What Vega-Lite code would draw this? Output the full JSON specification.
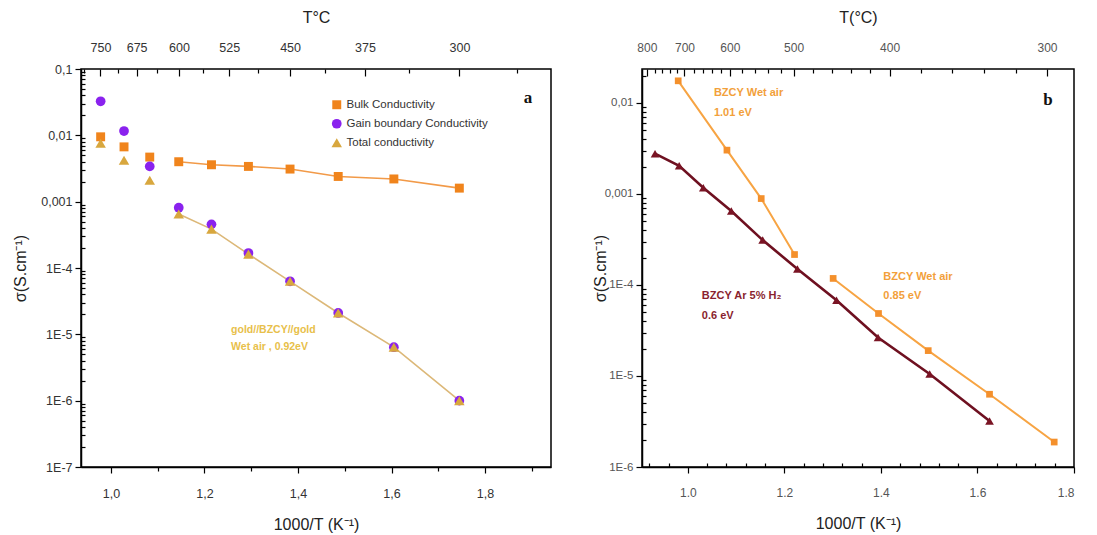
{
  "$schema": "https://vega.github.io/schema/vega-lite/v6.json",
  "background": "white",
  "padding": {"left": 11, "top": 8, "right": 0, "bottom": 0},
  "spacing": 91,
  "bounds": "flush",
  "resolve": {"scale": {"color": "independent", "shape": "independent", "size": "independent", "stroke": "independent", "strokeWidth": "independent", "opacity": "independent"}},
  "config": {
    "view": {"stroke": "black", "strokeWidth": 1.5},
    "font": "Liberation Sans",
    "axis": {"grid": false, "domainColor": "black", "domainWidth": 1.5, "tickColor": "black", "tickWidth": 1.2, "labelFont": "Liberation Sans", "labelFontSize": 12.5, "labelColor": "#333", "titleFont": "Liberation Sans", "titleFontSize": 16, "titleFontWeight": "normal", "titleColor": "#222"},
    "legend": {"labelFont": "Liberation Sans", "labelFontSize": 11.5, "labelColor": "#333", "symbolSize": 70, "rowPadding": 6, "symbolStrokeWidth": 0}
  },
  "datasets": {
    "left": [
      {"x": 0.978, "sigma": 0.0095, "series": "Bulk Conductivity"},
      {"x": 1.028, "sigma": 0.0067, "series": "Bulk Conductivity"},
      {"x": 1.083, "sigma": 0.0047, "series": "Bulk Conductivity"},
      {"x": 1.145, "sigma": 0.0040, "series": "Bulk Conductivity"},
      {"x": 1.215, "sigma": 0.0036, "series": "Bulk Conductivity"},
      {"x": 1.294, "sigma": 0.0034, "series": "Bulk Conductivity"},
      {"x": 1.383, "sigma": 0.0031, "series": "Bulk Conductivity"},
      {"x": 1.486, "sigma": 0.0024, "series": "Bulk Conductivity"},
      {"x": 1.605, "sigma": 0.0022, "series": "Bulk Conductivity"},
      {"x": 1.745, "sigma": 0.0016, "series": "Bulk Conductivity"},
      {"x": 0.978, "sigma": 0.0326, "series": "Gain boundary Conductivity"},
      {"x": 1.028, "sigma": 0.0116, "series": "Gain boundary Conductivity"},
      {"x": 1.083, "sigma": 0.0034, "series": "Gain boundary Conductivity"},
      {"x": 1.145, "sigma": 0.00081, "series": "Gain boundary Conductivity"},
      {"x": 1.215, "sigma": 0.000455, "series": "Gain boundary Conductivity"},
      {"x": 1.294, "sigma": 0.000168, "series": "Gain boundary Conductivity"},
      {"x": 1.383, "sigma": 0.000063, "series": "Gain boundary Conductivity"},
      {"x": 1.486, "sigma": 0.000021, "series": "Gain boundary Conductivity"},
      {"x": 1.605, "sigma": 0.0000064, "series": "Gain boundary Conductivity"},
      {"x": 1.745, "sigma": 0.000001, "series": "Gain boundary Conductivity"},
      {"x": 0.978, "sigma": 0.0076, "series": "Total conductivity"},
      {"x": 1.028, "sigma": 0.0042, "series": "Total conductivity"},
      {"x": 1.083, "sigma": 0.0021, "series": "Total conductivity"},
      {"x": 1.145, "sigma": 0.00065, "series": "Total conductivity"},
      {"x": 1.215, "sigma": 0.000386, "series": "Total conductivity"},
      {"x": 1.294, "sigma": 0.000162, "series": "Total conductivity"},
      {"x": 1.383, "sigma": 0.000063, "series": "Total conductivity"},
      {"x": 1.486, "sigma": 0.000021, "series": "Total conductivity"},
      {"x": 1.605, "sigma": 0.0000064, "series": "Total conductivity"},
      {"x": 1.745, "sigma": 0.000001, "series": "Total conductivity"}
    ],
    "right": [
      {"x": 0.980, "sigma": 0.0175, "series": "BZCY Wet air", "seg": "w1"},
      {"x": 1.081, "sigma": 0.00303, "series": "BZCY Wet air", "seg": "w1"},
      {"x": 1.152, "sigma": 0.00089, "series": "BZCY Wet air", "seg": "w1"},
      {"x": 1.221, "sigma": 0.000216, "series": "BZCY Wet air", "seg": "w1"},
      {"x": 1.301, "sigma": 0.000118, "series": "BZCY Wet air", "seg": "w2"},
      {"x": 1.395, "sigma": 0.0000486, "series": "BZCY Wet air", "seg": "w2"},
      {"x": 1.498, "sigma": 0.000019, "series": "BZCY Wet air", "seg": "w2"},
      {"x": 1.625, "sigma": 0.0000063, "series": "BZCY Wet air", "seg": "w2"},
      {"x": 1.759, "sigma": 0.00000188, "series": "BZCY Wet air", "seg": "w2"},
      {"x": 0.932, "sigma": 0.00277, "series": "BZCY Ar 5% H2", "seg": "h"},
      {"x": 0.982, "sigma": 0.00204, "series": "BZCY Ar 5% H2", "seg": "h"},
      {"x": 1.032, "sigma": 0.00117, "series": "BZCY Ar 5% H2", "seg": "h"},
      {"x": 1.090, "sigma": 0.00065, "series": "BZCY Ar 5% H2", "seg": "h"},
      {"x": 1.155, "sigma": 0.000311, "series": "BZCY Ar 5% H2", "seg": "h"},
      {"x": 1.227, "sigma": 0.00015, "series": "BZCY Ar 5% H2", "seg": "h"},
      {"x": 1.308, "sigma": 0.000068, "series": "BZCY Ar 5% H2", "seg": "h"},
      {"x": 1.394, "sigma": 0.0000265, "series": "BZCY Ar 5% H2", "seg": "h"},
      {"x": 1.501, "sigma": 0.0000105, "series": "BZCY Ar 5% H2", "seg": "h"},
      {"x": 1.625, "sigma": 0.0000032, "series": "BZCY Ar 5% H2", "seg": "h"}
    ]
  },
  "hconcat": [
    {
      "width": 470,
      "height": 398,
      "data": {"name": "left"},
      "resolve": {"axis": {"x": "independent", "y": "independent"}},
      "layer": [
        {
          "transform": [{"filter": "datum.x > 1.1 && datum.series != 'Gain boundary Conductivity'"}],
          "mark": {"type": "line", "strokeWidth": 1.6},
          "encoding": {
            "x": {"field": "x", "type": "quantitative", "scale": {"domain": [0.936, 1.941], "nice": false, "zero": false},
              "axis": {"orient": "bottom", "values": [1.0, 1.2, 1.4, 1.6, 1.8], "labelExpr": "replace(format(datum.value, '.1f'), '.', ',')", "tickSize": 6, "labelPadding": 14, "title": "1000/T (K⁻¹)", "titlePadding": 17}},
            "y": {"field": "sigma", "type": "quantitative", "scale": {"type": "log", "domain": [1e-7, 0.1], "nice": false},
              "axis": {"orient": "left", "values": [0.1, 0.01, 0.001, 0.0001, 0.00001, 0.000001, 0.0000001], "labelExpr": "datum.value > 0.05 ? '0,1' : datum.value > 0.005 ? '0,01' : datum.value > 0.0005 ? '0,001' : datum.value > 0.00005 ? '1E-4' : datum.value > 0.000005 ? '1E-5' : datum.value > 0.0000005 ? '1E-6' : '1E-7'", "tickSize": 6, "labelPadding": 3, "title": "σ(S.cm⁻¹)", "titlePadding": 12}},
            "stroke": {"field": "series", "type": "nominal", "scale": {"domain": ["Bulk Conductivity", "Total conductivity"], "range": ["#f29a48", "#dcb878"]}, "legend": null}
          }
        },
        {
          "mark": {"type": "point", "filled": true},
          "encoding": {
            "x": {"field": "x", "type": "quantitative", "axis": {"orient": "bottom", "values": [1.1, 1.3, 1.5, 1.7, 1.9], "labels": false, "domain": false, "tickSize": 4, "title": null}},
            "y": {"field": "sigma", "type": "quantitative", "axis": {"orient": "left", "values": [2e-7, 3e-7, 4e-7, 5e-7, 6e-7, 7e-7, 8e-7, 9e-7, 2e-6, 3e-6, 4e-6, 5e-6, 6e-6, 7e-6, 8e-6, 9e-6, 2e-5, 3e-5, 4e-5, 5e-5, 6e-5, 7e-5, 8e-5, 9e-5, 0.0002, 0.0003, 0.0004, 0.0005, 0.0006, 0.0007, 0.0008, 0.0009, 0.002, 0.003, 0.004, 0.005, 0.006, 0.007, 0.008, 0.009, 0.02, 0.03, 0.04, 0.05, 0.06, 0.07, 0.08, 0.09], "labels": false, "domain": false, "tickSize": 4, "offset": -4, "title": null}},
            "color": {"field": "series", "type": "nominal", "scale": {"domain": ["Bulk Conductivity", "Gain boundary Conductivity", "Total conductivity"], "range": ["#f0841c", "#8a22ee", "#d8a73e"]},
              "legend": {"orient": "none", "legendX": 250, "legendY": 30, "title": null}},
            "shape": {"field": "series", "type": "nominal", "scale": {"domain": ["Bulk Conductivity", "Gain boundary Conductivity", "Total conductivity"], "range": ["square", "circle", "triangle-up"]},
              "legend": {"orient": "none", "legendX": 250, "legendY": 30, "title": null}},
            "size": {"field": "series", "type": "nominal", "scale": {"domain": ["Bulk Conductivity", "Gain boundary Conductivity", "Total conductivity"], "range": [80, 110, 90]}, "legend": null},
            "opacity": {"field": "series", "type": "nominal", "scale": {"domain": ["Bulk Conductivity", "Gain boundary Conductivity", "Total conductivity"], "range": [1, 1, 0.72]}, "legend": null}
          }
        },
        {
          "data": {"values": [
            {"x": 1.257, "sigma": 0.0000116, "label": "gold//BZCY//gold"},
            {"x": 1.257, "sigma": 0.0000064, "label": "Wet air , 0.92eV"}
          ]},
          "mark": {"type": "text", "align": "left", "baseline": "middle", "font": "Liberation Sans", "fontSize": 10.5, "fontWeight": "bold", "color": "#e8c04a"},
          "encoding": {
            "x": {"field": "x", "type": "quantitative",
              "axis": {"orient": "top", "values": [0.9775, 1.0549, 1.1455, 1.2531, 1.3831, 1.5432, 1.7452], "labelExpr": "datum.value < 1.0 ? '750' : datum.value < 1.1 ? '675' : datum.value < 1.2 ? '600' : datum.value < 1.3 ? '525' : datum.value < 1.45 ? '450' : datum.value < 1.6 ? '375' : '300'", "ticks": false, "labelPadding": 15, "domain": false, "title": "T°C", "titlePadding": 16}},
            "y": {"field": "sigma", "type": "quantitative", "axis": null},
            "text": {"field": "label"}
          }
        },
        {
          "data": {"values": [{"x": 1.892, "sigma": 0.0366, "label": "a"}]},
          "mark": {"type": "text", "align": "center", "baseline": "middle", "font": "Liberation Serif", "fontSize": 17, "fontWeight": "bold", "color": "#111"},
          "encoding": {
            "x": {"field": "x", "type": "quantitative",
              "axis": {"orient": "top", "values": [0.943, 1.0147, 1.0983, 1.1969, 1.3149, 1.4588, 1.638, 1.8674], "labels": false, "domain": false, "tickSize": 4, "offset": -4, "title": null}},
            "y": {"field": "sigma", "type": "quantitative", "axis": null},
            "text": {"field": "label"}
          }
        },
        {
          "mark": {"type": "point", "opacity": 0},
          "encoding": {
            "x": {"field": "x", "type": "quantitative",
              "axis": {"orient": "top", "values": [0.9775, 1.0549, 1.1455, 1.2531, 1.3831, 1.5432, 1.7452], "labels": false, "domain": false, "tickSize": 7, "offset": -7, "title": null}},
            "y": {"field": "sigma", "type": "quantitative", "axis": null}
          }
        }
      ]
    },
    {
      "width": 432,
      "height": 398,
      "data": {"name": "right"},
      "resolve": {"axis": {"x": "independent", "y": "independent"}},
      "layer": [
        {
          "mark": {"type": "line"},
          "encoding": {
            "x": {"field": "x", "type": "quantitative", "scale": {"domain": [0.905, 1.8], "nice": false, "zero": false},
              "axis": {"orient": "bottom", "values": [1.0, 1.2, 1.4, 1.6, 1.8], "format": ".1f", "labelColor": "#555", "labelFontSize": 12, "tickSize": 6, "labelPadding": 14, "title": "1000/T (K⁻¹)", "titlePadding": 17}},
            "y": {"field": "sigma", "type": "quantitative", "scale": {"type": "log", "domain": [0.000001, 0.0236], "nice": false},
              "axis": {"orient": "left", "values": [0.01, 0.001, 0.0001, 0.00001, 0.000001], "labelColor": "#555", "labelFontSize": 11.5, "labelExpr": "datum.value > 0.005 ? '0,01' : datum.value > 0.0005 ? '0,001' : datum.value > 0.00005 ? '1E-4' : datum.value > 0.000005 ? '1E-5' : '1E-6'", "tickSize": 6, "labelPadding": 3, "title": "σ(S.cm⁻¹)", "titleX": -34}},
            "detail": {"field": "seg", "type": "nominal"},
            "stroke": {"field": "series", "type": "nominal", "scale": {"domain": ["BZCY Wet air", "BZCY Ar 5% H2"], "range": ["#f7a443", "#6e1020"]}, "legend": null},
            "strokeWidth": {"field": "series", "type": "nominal", "scale": {"domain": ["BZCY Wet air", "BZCY Ar 5% H2"], "range": [2, 2.6]}, "legend": null}
          }
        },
        {
          "mark": {"type": "point", "filled": true, "opacity": 1},
          "encoding": {
            "x": {"field": "x", "type": "quantitative", "axis": {"orient": "bottom", "values": [0.92, 0.96, 1.04, 1.08, 1.12, 1.16, 1.24, 1.28, 1.32, 1.36, 1.44, 1.48, 1.52, 1.56, 1.64, 1.68, 1.72, 1.76], "labels": false, "domain": false, "tickSize": 4, "offset": -4, "title": null}},
            "y": {"field": "sigma", "type": "quantitative", "axis": {"orient": "left", "values": [2e-6, 3e-6, 4e-6, 5e-6, 6e-6, 7e-6, 8e-6, 9e-6, 2e-5, 3e-5, 4e-5, 5e-5, 6e-5, 7e-5, 8e-5, 9e-5, 0.0002, 0.0003, 0.0004, 0.0005, 0.0006, 0.0007, 0.0008, 0.0009, 0.002, 0.003, 0.004, 0.005, 0.006, 0.007, 0.008, 0.009, 0.02], "labels": false, "domain": false, "tickSize": 4, "offset": -4, "title": null}},
            "color": {"field": "series", "type": "nominal", "scale": {"domain": ["BZCY Wet air", "BZCY Ar 5% H2"], "range": ["#f4902c", "#7a1424"]}, "legend": null},
            "shape": {"field": "series", "type": "nominal", "scale": {"domain": ["BZCY Wet air", "BZCY Ar 5% H2"], "range": ["square", "triangle-up"]}, "legend": null},
            "size": {"field": "series", "type": "nominal", "scale": {"domain": ["BZCY Wet air", "BZCY Ar 5% H2"], "range": [45, 75]}, "legend": null}
          }
        },
        {
          "data": {"values": [
            {"x": 1.054, "sigma": 0.0129, "label": "BZCY Wet air"},
            {"x": 1.054, "sigma": 0.0078, "label": "1.01 eV"},
            {"x": 1.405, "sigma": 0.000123, "label": "BZCY Wet air"},
            {"x": 1.405, "sigma": 0.000075, "label": "0.85 eV"}
          ]},
          "mark": {"type": "text", "align": "left", "baseline": "middle", "font": "Liberation Sans", "fontSize": 11, "fontWeight": "bold", "color": "#f2a03a"},
          "encoding": {
            "x": {"field": "x", "type": "quantitative",
              "axis": {"orient": "top", "values": [0.915, 0.993, 1.087, 1.219, 1.418, 1.744], "labelExpr": "datum.value < 0.95 ? '800' : datum.value < 1.05 ? '700' : datum.value < 1.15 ? '600' : datum.value < 1.3 ? '500' : datum.value < 1.6 ? '400' : '300'", "labelColor": "#555", "labelFontSize": 12, "ticks": false, "labelPadding": 15, "domain": false, "title": "T(°C)", "titlePadding": 16}},
            "y": {"field": "sigma", "type": "quantitative", "axis": null},
            "text": {"field": "label"}
          }
        },
        {
          "data": {"values": [
            {"x": 1.029, "sigma": 0.000076, "label": "BZCY Ar 5% H₂"},
            {"x": 1.029, "sigma": 0.000046, "label": "0.6 eV"}
          ]},
          "mark": {"type": "text", "align": "left", "baseline": "middle", "font": "Liberation Sans", "fontSize": 11, "fontWeight": "bold", "color": "#8a1f2e"},
          "encoding": {
            "x": {"field": "x", "type": "quantitative",
              "axis": {"orient": "top", "values": [0.931, 0.946, 0.962, 0.977, 1.012, 1.031, 1.049, 1.068, 1.113, 1.14, 1.166, 1.193, 1.259, 1.298, 1.338, 1.378, 1.483, 1.548, 1.614, 1.679], "labels": false, "domain": false, "tickSize": 4, "offset": -4, "title": null}},
            "y": {"field": "sigma", "type": "quantitative", "axis": null},
            "text": {"field": "label"}
          }
        },
        {
          "data": {"values": [{"x": 1.746, "sigma": 0.0108, "label": "b"}]},
          "mark": {"type": "text", "align": "center", "baseline": "middle", "font": "Liberation Serif", "fontSize": 17, "fontWeight": "bold", "color": "#111"},
          "encoding": {
            "x": {"field": "x", "type": "quantitative",
              "axis": {"orient": "top", "values": [0.915, 0.993, 1.087, 1.219, 1.418, 1.744], "labels": false, "domain": false, "tickSize": 7, "offset": -7, "title": null}},
            "y": {"field": "sigma", "type": "quantitative", "axis": null},
            "text": {"field": "label"}
          }
        }
      ]
    }
  ]
}
